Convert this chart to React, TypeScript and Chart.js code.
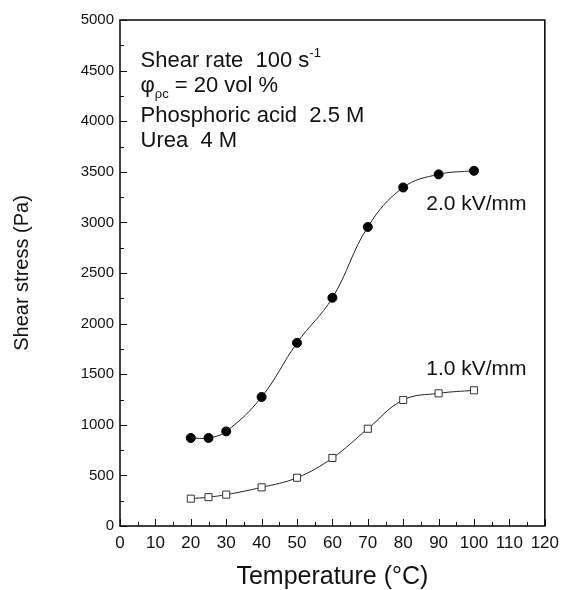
import React, { useEffect, useRef } from "react";
import { Chart, registerables } from "chart.js";

Chart.register(...registerables);

// ---- data ----
const temperatures = [20, 25, 30, 40, 50, 60, 70, 80, 90, 100];
const stress2kV = [870, 870, 935, 1275, 1810, 2255, 2955, 3345, 3475, 3510];
const stress1kV = [270, 285, 310, 382, 477, 672, 961, 1245, 1311, 1341];
const seriesNames = ["2.0 kV/mm", "1.0 kV/mm"];
const xRange = [0, 120];
const yRange = [0, 5000];
const xStep = 10;
const yStep = 500;

const FONT = '"Liberation Sans", Arial, Helvetica, sans-serif';

type Part = { text: string; size: number; dy?: number };

function drawRich(ctx: CanvasRenderingContext2D, x: number, y: number, parts: Part[]) {
  let cx = x;
  for (const p of parts) {
    ctx.font = `${p.size}px ${FONT}`;
    ctx.fillText(p.text, cx, y + (p.dy || 0));
    cx += ctx.measureText(p.text).width;
  }
}

const framePlugin = {
  id: "frameAndNotes",
  afterDraw(chart: any) {
    const { ctx, chartArea } = chart;
    const { left, right, top, bottom } = chartArea;
    const xs = chart.scales.x;
    const ys = chart.scales.y;
    ctx.save();
    ctx.strokeStyle = "#111";
    ctx.lineWidth = 1;
    for (let v = xRange[0]; v <= xRange[1]; v += xStep / 2) {
      const px = Math.round(xs.getPixelForValue(v)) + 0.5;
      const len = v % xStep === 0 ? 7 : 4;
      ctx.beginPath();
      ctx.moveTo(px, bottom);
      ctx.lineTo(px, bottom - len);
      ctx.stroke();
    }
    for (let v = yRange[0]; v <= yRange[1]; v += yStep / 2) {
      const py = Math.round(ys.getPixelForValue(v)) + 0.5;
      const len = v % yStep === 0 ? 7 : 4;
      ctx.beginPath();
      ctx.moveTo(left, py);
      ctx.lineTo(left + len, py);
      ctx.stroke();
    }
    ctx.lineWidth = 1.6;
    ctx.strokeRect(left, top, right - left, bottom - top);

    ctx.fillStyle = "#111";
    ctx.textBaseline = "alphabetic";
    ctx.textAlign = "left";
    const ax = xs.getPixelForValue(5.8);
    drawRich(ctx, ax, ys.getPixelForValue(4535), [
      { text: "Shear rate  100 s", size: 22 },
      { text: "-1", size: 13, dy: -10 },
    ]);
    drawRich(ctx, ax, ys.getPixelForValue(4289), [
      { text: "\u03C6", size: 22 },
      { text: "\u03C1c", size: 13, dy: 6 },
      { text: " = 20 vol %", size: 22 },
    ]);
    drawRich(ctx, ax, ys.getPixelForValue(3992), [{ text: "Phosphoric acid  2.5 M", size: 22 }]);
    drawRich(ctx, ax, ys.getPixelForValue(3745), [{ text: "Urea  4 M", size: 22 }]);

    const lx = xs.getPixelForValue(86.5);
    drawRich(ctx, lx, ys.getPixelForValue(3123), [{ text: seriesNames[0], size: 21 }]);
    drawRich(ctx, lx, ys.getPixelForValue(1492), [{ text: seriesNames[1], size: 21 }]);
    ctx.restore();
  },
};

export default function App() {
  const ref = useRef<HTMLCanvasElement | null>(null);
  useEffect(() => {
    document.body.style.margin = "0";
    document.body.style.overflow = "hidden";
    const canvas = ref.current;
    if (!canvas) return;
    const chart = new Chart(canvas, {
      type: "line",
      data: {
        datasets: [
          {
            label: seriesNames[0],
            data: temperatures.map((t, i) => ({ x: t, y: stress2kV[i] })),
            borderColor: "#222",
            borderWidth: 1,
            tension: 0.4,
            pointStyle: "circle",
            pointRadius: 4.5,
            pointBackgroundColor: "#000",
            pointBorderColor: "#000",
            pointBorderWidth: 1,
            fill: false,
          },
          {
            label: seriesNames[1],
            data: temperatures.map((t, i) => ({ x: t, y: stress1kV[i] })),
            borderColor: "#222",
            borderWidth: 1,
            tension: 0.4,
            pointStyle: "rect",
            pointRadius: 5,
            pointBackgroundColor: "#fff",
            pointBorderColor: "#333",
            pointBorderWidth: 1,
            fill: false,
          },
        ],
      },
      options: {
        animation: false,
        responsive: false,
        events: [],
        layout: { padding: { top: 20, right: 14, left: 0, bottom: 0 } },
        plugins: { legend: { display: false }, title: { display: false }, tooltip: { enabled: false } },
        scales: {
          x: {
            type: "linear",
            position: "bottom",
            min: xRange[0],
            max: xRange[1],
            grid: { display: false, drawTicks: false },
            border: { display: false },
            ticks: {
              stepSize: xStep,
              autoSkip: false,
              maxRotation: 0,
              padding: 7,
              color: "#111",
              font: { size: 17, family: FONT },
              callback: (v: any) => String(v),
            },
            title: {
              display: true,
              text: "Temperature (\u00B0C)",
              color: "#111",
              font: { size: 25, family: FONT, lineHeight: 1 },
              padding: { top: 0, bottom: 0 },
            },
            afterFit: (s: any) => {
              s.height = 64;
            },
          },
          y: {
            type: "linear",
            position: "left",
            min: yRange[0],
            max: yRange[1],
            grid: { display: false, drawTicks: false },
            border: { display: false },
            ticks: {
              stepSize: yStep,
              autoSkip: false,
              padding: 6,
              color: "#111",
              font: { size: 15, family: FONT },
              callback: (v: any) => String(v),
            },
            title: {
              display: true,
              text: "Shear stress (Pa)",
              color: "#111",
              font: { size: 20, family: FONT, lineHeight: 1.2 },
              padding: { top: 10, bottom: 0 },
            },
            afterFit: (s: any) => {
              s.width = 120;
            },
          },
        },
      },
      plugins: [framePlugin],
    } as any);
    return () => chart.destroy();
  }, []);
  return (
    <div style={{ width: 566, height: 590, background: "#fff" }}>
      <canvas ref={ref} width={566} height={590} style={{ display: "block" }} />
    </div>
  );
}
